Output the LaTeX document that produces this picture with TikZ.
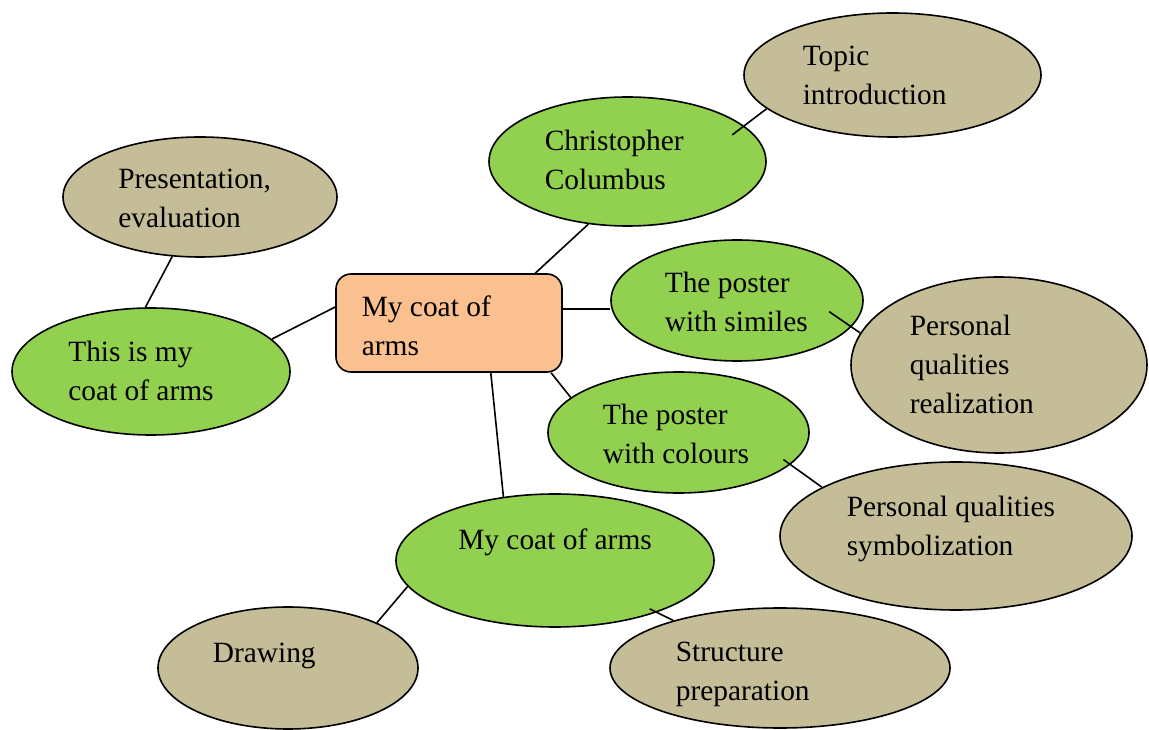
\documentclass[tikz,border=0pt]{standalone}
\usepackage{fontspec}
\setmainfont{Liberation Serif}
\usepackage{xcolor}
\usetikzlibrary{positioning,shapes.geometric}
\definecolor{leafgreen}{HTML}{92D050}
\definecolor{leaftan}{HTML}{C4BD97}
\definecolor{rootorange}{HTML}{FAC08F}

\begin{document}
\begin{tikzpicture}[on grid, line width=1.6pt,
  root/.style={draw, rectangle, rounded corners=15pt, fill=rootorange, minimum width=226pt, minimum height=98pt},
  topic/.style={draw, ellipse, fill=leafgreen, inner sep=0pt},
  detail/.style={draw, ellipse, fill=leaftan, inner sep=0pt},
  txt/.style={anchor=north west, inner sep=0pt, align=left, font=\fontsize{29.4pt}{39pt}\selectfont}]

\useasboundingbox (0,0) rectangle (1149pt,729pt);

\node(BOX)  [root] at (449pt,406pt) {};
\node(CC)   [topic, minimum width=277pt, minimum height=129pt, above right=161.5pt and 178.5pt of BOX] {};
\node(TI)   [detail, minimum width=297pt, minimum height=124pt, above right=86.5pt and 265pt of CC] {};
\node(PS)   [topic, minimum width=252pt, minimum height=121pt, above right=22.5pt and 288pt of BOX] {};
\node(QR)   [detail, minimum width=296pt, minimum height=176pt, below right=64.5pt and 262pt of PS] {};
\node(PC)   [topic, minimum width=261pt, minimum height=121pt, below right=109.5pt and 229.5pt of BOX] {};
\node(QS)   [detail, minimum width=352pt, minimum height=148pt, below right=103.5pt and 277.5pt of PC] {};
\node(MC)   [topic, minimum width=318pt, minimum height=133pt, below right=237.5pt and 106pt of BOX] {};
\node(DR)   [detail, minimum width=260pt, minimum height=122pt, below left=107.5pt and 267pt of MC] {};
\node(SP)   [detail, minimum width=340pt, minimum height=120pt, below right=107.5pt and 225pt of MC] {};
\node(TM)   [topic, minimum width=278pt, minimum height=127pt, below left=48.5pt and 298pt of BOX] {};
\node(PE)   [detail, minimum width=274pt, minimum height=120pt, above right=174.5pt and 49pt of TM] {};

\node(BOXTXT) [txt, xshift=-88pt, yshift=28pt]     at (BOX.center) {My coat of\\arms};
\node(CCTXT)  [txt, xshift=-83.5pt, yshift=32.5pt] at (CC.center)  {Christopher\\Columbus};
\node(TITXT)  [txt, xshift=-90.5pt, yshift=30pt]   at (TI.center)  {Topic\\introduction};
\node(PETXT)  [txt, xshift=-82.5pt, yshift=29pt]   at (PE.center)  {Presentation,\\evaluation};
\node(TMTXT)  [txt, xshift=-83.5pt, yshift=31.5pt] at (TM.center)  {This is my\\coat of arms};
\node(PSTXT)  [txt, xshift=-73pt, yshift=29.5pt]   at (PS.center)  {The poster\\with similes};
\node(PCTXT)  [txt, xshift=-76.5pt, yshift=29.5pt] at (PC.center)  {The poster\\with colours};
\node(QRTXT)  [txt, xshift=-90pt, yshift=51pt]     at (QR.center)  {Personal\\qualities\\realization};
\node(QSTXT)  [txt, xshift=-110pt, yshift=41pt]    at (QS.center)  {Personal qualities\\symbolization};
\node(MCTXT)  [txt, xshift=-97.5pt, yshift=32.5pt] at (MC.center)  {My coat of arms};
\node(DRTXT)  [txt, xshift=-76pt, yshift=26pt]     at (DR.center)  {Drawing};
\node(SPTXT)  [txt, xshift=-105pt, yshift=27pt]    at (SP.center)  {Structure\\preparation};

\draw(BOX.172)  -- (TM.15);
\draw(PE.245)   -- (TM.95);
\draw(BOX.30)   -- (CC.238);
\draw[shorten >=-15pt] (TI.195) -- (CC.17);
\draw(BOX.7.5)  -- (BOX.7.5 -| PS.west);
\draw[shorten >=-27pt] (QR.167.5) -- (PS.347);
\draw(BOX.334)  -- (PC.162);
\draw[shorten >=-8.5pt] (QS.160) -- (PC.344);
\draw(BOX.310)  -- (MC.129);
\draw(MC.190)   -- (DR.27);
\draw[shorten >=-8pt] (SP.156) -- (MC.333);
\end{tikzpicture}
\end{document}
